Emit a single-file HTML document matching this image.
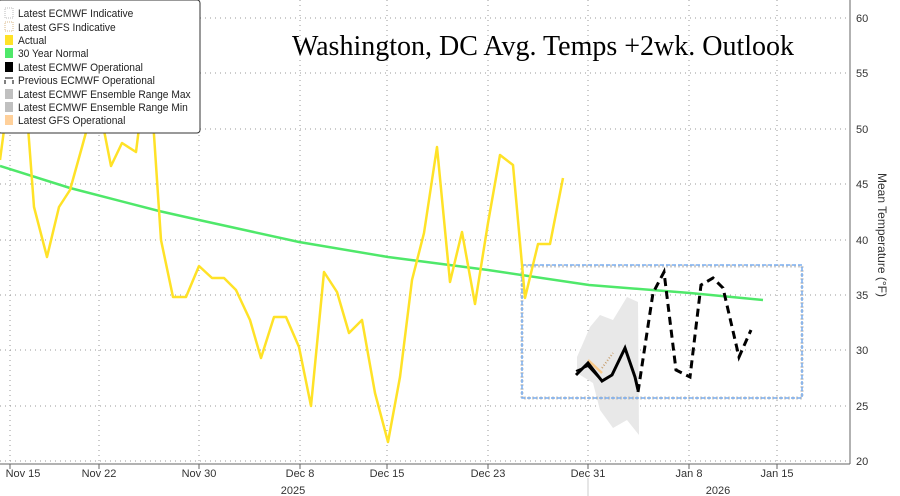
<!DOCTYPE html>
<html><head><meta charset="utf-8"><style>
html,body{margin:0;padding:0;background:#fff;}
svg{display:block;}
</style></head><body>
<svg width="900" height="496" xmlns="http://www.w3.org/2000/svg" font-family="Liberation Sans, sans-serif">
<rect width="900" height="496" fill="#fff"/>
<!-- grid -->
<g stroke="#999" stroke-width="1" stroke-dasharray="1,4">
<line x1="0" y1="18" x2="850" y2="18"/>
<line x1="0" y1="73" x2="850" y2="73"/>
<line x1="0" y1="129" x2="850" y2="129"/>
<line x1="0" y1="184" x2="850" y2="184"/>
<line x1="0" y1="240" x2="850" y2="240"/>
<line x1="0" y1="295" x2="850" y2="295"/>
<line x1="0" y1="350" x2="850" y2="350"/>
<line x1="0" y1="406" x2="850" y2="406"/>
<line x1="0" y1="461" x2="850" y2="461"/>
<line x1="10" y1="0" x2="10" y2="464"/>
<line x1="99" y1="0" x2="99" y2="464"/>
<line x1="199" y1="0" x2="199" y2="464"/>
<line x1="300" y1="0" x2="300" y2="464"/>
<line x1="387" y1="0" x2="387" y2="464"/>
<line x1="488" y1="0" x2="488" y2="464"/>
<line x1="588" y1="0" x2="588" y2="464"/>
<line x1="689" y1="0" x2="689" y2="464"/>
<line x1="777" y1="0" x2="777" y2="464"/>
</g>
<!-- axes -->
<line x1="850" y1="0" x2="850" y2="464" stroke="#666"/>
<line x1="0" y1="464" x2="850" y2="464" stroke="#666"/>
<g stroke="#666">
<line x1="10" y1="464" x2="10" y2="469"/><line x1="99" y1="464" x2="99" y2="469"/><line x1="199" y1="464" x2="199" y2="469"/><line x1="300" y1="464" x2="300" y2="469"/><line x1="387" y1="464" x2="387" y2="469"/><line x1="488" y1="464" x2="488" y2="469"/><line x1="588" y1="464" x2="588" y2="469"/><line x1="689" y1="464" x2="689" y2="469"/><line x1="777" y1="464" x2="777" y2="469"/>
</g>
<line x1="588" y1="478" x2="588" y2="496" stroke="#ccc"/>
<g font-size="11" fill="#333" text-anchor="middle">
<text x="23" y="477">Nov 15</text><text x="99" y="477">Nov 22</text><text x="199" y="477">Nov 30</text><text x="300" y="477">Dec 8</text><text x="387" y="477">Dec 15</text><text x="488" y="477">Dec 23</text><text x="588" y="477">Dec 31</text><text x="689" y="477">Jan 8</text><text x="777" y="477">Jan 15</text>
<text x="293" y="494">2025</text><text x="718" y="494">2026</text>
</g>
<g font-size="11" fill="#333">
<text x="856" y="22">60</text><text x="856" y="77">55</text><text x="856" y="133">50</text><text x="856" y="188">45</text><text x="856" y="244">40</text><text x="856" y="299">35</text><text x="856" y="354">30</text><text x="856" y="410">25</text><text x="856" y="465">20</text>
</g>
<text transform="translate(878,235) rotate(90)" font-size="12" fill="#333" text-anchor="middle">Mean Temperature (°F)</text>
<!-- title -->
<text x="543" y="55" font-family="Liberation Serif, serif" font-size="28" fill="#000" text-anchor="middle">Washington, DC Avg. Temps +2wk. Outlook</text>
<!-- ensemble -->
<polygon points="577,357 590,327 600,315 613,320 627,297 638,302 639,435 627,420 613,428 600,410 593,383 577,373" fill="#e8e8e8"/>
<!-- box -->
<rect x="522" y="266" width="280" height="132" fill="none" stroke="#aaa" stroke-width="3" stroke-dasharray="2,2" opacity="0.6"/>
<rect x="522" y="265" width="280" height="133" fill="none" stroke="#7aaef0" stroke-width="1.5" stroke-dasharray="4,2"/>
<!-- normal -->
<polyline points="0,166 70,188 159,211 199,220 299,242 388,257 488,270 589,285 690,293 763,300" fill="none" stroke="#4fe86a" stroke-width="2.5"/>
<!-- actual -->
<polyline points="0,160 8,100 26,100 34,207 47,257 59,207 70,190 82,147 88,125 100,110 111,166 122,143 136,152 140,120 153,120 161,240 173,297 186,297 199,266 212,278 224,278 236,290 250,320 261,358 274,317 286,317 299,347 311,406 324,272 337,292 349,333 362,320 375,393 388,442 400,377 412,280 424,233 437,147 450,282 462,232 475,304 488,223 500,155 513,165 525,298 538,244 550,244 563,178" fill="none" stroke="#ffe227" stroke-width="2.5" stroke-linejoin="round"/>
<!-- GFS -->
<polyline points="588,360 602,373" fill="none" stroke="#f8c98a" stroke-width="2.5"/>
<polyline points="602,368 613,353" fill="none" stroke="#c8a070" stroke-width="2" stroke-dasharray="1,2"/>
<!-- ECMWF operational -->
<polyline points="576,375 588,363 602,381 612,375 625,348 635,377 638,390" fill="none" stroke="#000" stroke-width="3"/>
<polyline points="576,371 588,366 600,379" fill="none" stroke="#000" stroke-width="2"/>
<polyline points="638,392 653,293 664,272 676,370 690,377 701,285 713,278 723,288 739,357 751,330" fill="none" stroke="#000" stroke-width="3" stroke-dasharray="8,5"/>
<!-- legend -->
<rect x="-2" y="0" width="202" height="133" rx="3" fill="#fff" stroke="#333" stroke-width="1"/>
<g font-size="11" fill="#222">
<rect x="5" y="8" width="8" height="10" fill="none" stroke="#bbb" stroke-dasharray="1,1"/>
<rect x="5" y="22" width="8" height="9" fill="none" stroke="#d9b88a" stroke-dasharray="1,1"/>
<rect x="5" y="35" width="8" height="10" fill="#ffe227"/>
<rect x="5" y="48" width="8" height="10" fill="#4fe86a"/>
<rect x="5" y="62" width="8" height="10" fill="#000"/>
<path d="M5,78 h8 M5,80 v4 M13,80 v4" stroke="#000" fill="none"/>
<rect x="5" y="89" width="8" height="10" fill="#c0c0c0"/>
<rect x="5" y="102" width="8" height="10" fill="#c0c0c0"/>
<rect x="5" y="115" width="8" height="10" fill="#ffd09a"/>
<g transform="translate(18,0) scale(0.93,1)">
<text x="0" y="17">Latest ECMWF Indicative</text>
<text x="0" y="31">Latest GFS Indicative</text>
<text x="0" y="44">Actual</text>
<text x="0" y="57">30 Year Normal</text>
<text x="0" y="71">Latest ECMWF Operational</text>
<text x="0" y="84">Previous ECMWF Operational</text>
<text x="0" y="98">Latest ECMWF Ensemble Range Max</text>
<text x="0" y="111">Latest ECMWF Ensemble Range Min</text>
<text x="0" y="124">Latest GFS Operational</text>
</g>
</g>
</svg>
</body></html>
